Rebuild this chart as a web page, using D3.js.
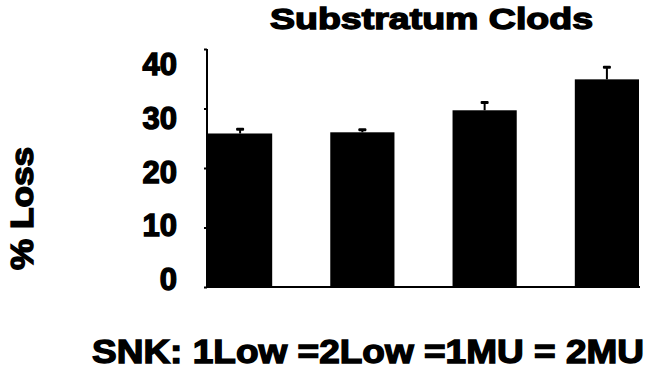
<!DOCTYPE html>
<html>
<head>
<meta charset="utf-8">
<script src="https://cdn.jsdelivr.net/npm/d3@7"></script>
<style>
  html, body { margin: 0; padding: 0; background: #fff; }
  svg { display: block; }
  text { font-family: "Liberation Sans", Arial, sans-serif; font-weight: bold; fill: #000; }
</style>
</head>
<body>
<svg id="chart" width="649" height="374"></svg>
<script>
// Percent soil loss for substratum clods by treatment
const categories = ["1Low", "2Low", "1MU", "2MU"];
const meanLoss = [25.8, 26.0, 29.7, 34.9];
const stdError = [0.8, 0.5, 1.4, 2.1];
const tickValues = [0, 10, 20, 30, 40];

const chartTitle = "Substratum Clods";
const yTitle = "% Loss";
const footNote = "SNK: 1Low =2Low =1MU = 2MU";

const svg = d3.select("#chart");

const plotLeft = 208, plotRight = 639, plotTop = 49, plotBottom = 287;

const x = d3.scaleBand()
  .domain(categories)
  .range([plotLeft, plotRight])
  .paddingInner(0.475)
  .paddingOuter(0);

const y = d3.scaleLinear().domain([0, 40]).range([plotBottom, plotTop]);
// tick numbers sit on a slightly compressed ladder beside the axis
const yLabel = d3.scaleLinear().domain([0, 40]).range([278.5, 63.5]);

const data = categories.map((c, i) => ({ cat: c, v: meanLoss[i], e: stdError[i] }));

// bars
svg.append("g").selectAll("rect").data(data).join("rect")
  .attr("x", d => x(d.cat))
  .attr("y", d => y(d.v))
  .attr("width", x.bandwidth())
  .attr("height", d => y(0) - y(d.v))
  .attr("fill", "#000");

// upper error bars
const eb = svg.append("g").selectAll("g").data(data).join("g");
eb.append("line")
  .attr("x1", d => x(d.cat) + x.bandwidth() / 2)
  .attr("x2", d => x(d.cat) + x.bandwidth() / 2)
  .attr("y1", d => y(d.v))
  .attr("y2", d => y(d.v + d.e))
  .attr("stroke", "#000").attr("stroke-width", 2);
eb.append("rect")
  .attr("x", d => x(d.cat) + x.bandwidth() / 2 - 4)
  .attr("y", d => y(d.v + d.e) - 1)
  .attr("width", 8).attr("height", 3)
  .attr("rx", 1)
  .attr("fill", "#000");

// y axis line and ticks
const yAxis = svg.append("g")
  .attr("transform", `translate(${plotLeft - 1},0)`)
  .call(d3.axisLeft(y).tickValues(tickValues).tickSize(3).tickFormat(""));
yAxis.select(".domain").attr("stroke", "#000").attr("stroke-width", 2)
  .attr("d", `M0,${plotTop}V${plotBottom}`);
yAxis.selectAll(".tick line").attr("stroke", "#000").attr("stroke-width", 2);

// tick labels
const yLab = svg.append("g")
  .attr("transform", "translate(177,0)")
  .call(d3.axisLeft(yLabel).tickValues(tickValues).tickSize(0).tickPadding(0));
yLab.select(".domain").remove();
yLab.selectAll(".tick text")
  .attr("font-size", 31)
  .attr("font-family", "Liberation Sans, Arial, sans-serif")
  .attr("font-weight", "bold")
  .attr("stroke", "#000").attr("stroke-width", 1.4)
  .attr("dy", "0.36em");

// x axis baseline
svg.append("line")
  .attr("x1", plotLeft - 2).attr("x2", plotRight + 1)
  .attr("y1", plotBottom).attr("y2", plotBottom)
  .attr("stroke", "#000").attr("stroke-width", 2);

// title
svg.append("text")
  .attr("x", 270).attr("y", 29)
  .attr("font-size", 30)
  .attr("textLength", 323).attr("lengthAdjust", "spacingAndGlyphs")
  .attr("stroke", "#000").attr("stroke-width", 1.4)
  .text(chartTitle);

// y title
svg.append("text")
  .attr("transform", "translate(33,270) rotate(-90)")
  .attr("font-size", 31)
  .attr("textLength", 123).attr("lengthAdjust", "spacingAndGlyphs")
  .attr("stroke", "#000").attr("stroke-width", 1.4)
  .text(yTitle);

// footnote
svg.append("text")
  .attr("x", 92).attr("y", 363)
  .attr("font-size", 34)
  .attr("textLength", 552).attr("lengthAdjust", "spacingAndGlyphs")
  .attr("stroke", "#000").attr("stroke-width", 1.4)
  .text(footNote);
</script>
</body>
</html>
